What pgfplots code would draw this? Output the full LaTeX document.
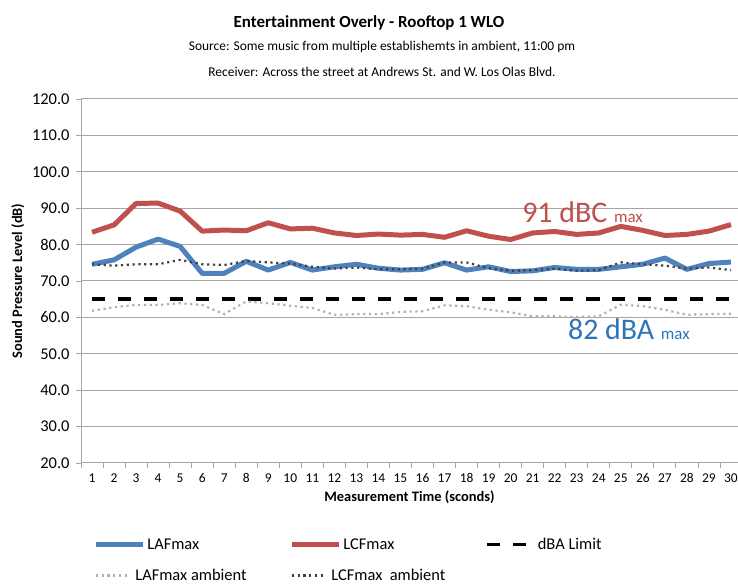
\documentclass[border=0pt]{standalone}
\usepackage{fontspec}
\setmainfont{Carlito}
\usepackage{pgfplots}
\pgfplotsset{compat=1.18}
\usepackage{pgfplotstable}
\definecolor{cblue}{HTML}{4F81BD}
\definecolor{cred}{HTML}{C0504D}
\definecolor{tblue}{HTML}{2E75B6}
\definecolor{gridc}{HTML}{A6A6A6}
\definecolor{lgray}{HTML}{B0B0B0}
\definecolor{dgray}{HTML}{404040}
\pgfplotsset{shortleg/.style={legend image code/.code={\draw[##1] (0bp,0bp) -- (32bp,0bp);}}}

\pgfplotstableread{
x LAF LCF LAFamb LCFamb lim
1 74.6 83.4 61.8 74.6 65
2 75.8 85.4 62.8 74.2 65
3 79.3 91.3 63.4 74.6 65
4 81.5 91.4 63.4 74.6 65
5 79.5 89.2 63.9 75.8 65
6 72.1 83.7 63.4 74.6 65
7 72.1 84.0 60.9 74.4 65
8 75.4 83.8 64.4 75.5 65
9 73.0 86.0 63.9 75.1 65
10 75.1 84.3 63.2 74.8 65
11 73.0 84.5 62.6 73.9 65
12 73.9 83.2 60.7 73.4 65
13 74.6 82.5 60.9 73.7 65
14 73.5 82.9 60.9 73.2 65
15 73.0 82.6 61.5 73.2 65
16 73.2 82.8 61.7 73.4 65
17 75.0 82.0 63.3 75.1 65
18 73.0 83.8 63.1 75.1 65
19 73.9 82.3 62.1 73.5 65
20 72.6 81.4 61.4 72.8 65
21 72.8 83.2 60.3 73.0 65
22 73.7 83.6 60.3 73.4 65
23 73.2 82.8 60.1 72.8 65
24 73.2 83.2 60.3 73.0 65
25 73.9 85.0 63.5 75.1 65
26 74.6 83.9 63.1 74.6 65
27 76.3 82.5 62.1 74.2 65
28 73.2 82.8 60.7 73.4 65
29 74.8 83.7 60.9 73.7 65
30 75.2 85.5 61.0 73.0 65
}\datatable

\begin{document}
\begin{tikzpicture}[x=1bp,y=1bp]
\useasboundingbox (0,0) rectangle (738,585);
\node[font=\bfseries\fontsize{17}{19}\selectfont] at (369,562) {Entertainment Overly - Rooftop 1 WLO};
\node[font=\fontsize{13.5}{16}\selectfont] at (382,538) {Source: Some music from multiple establishemts in ambient, 11:00 pm};
\node[font=\fontsize{13.5}{16}\selectfont] at (382,513) {Receiver: Across the street at Andrews St. and W. Los Olas Blvd.};
\begin{axis}[
  at={(81bp,122bp)}, anchor=south west,
  scale only axis, width=657bp, height=364bp,
  xmin=0.5, xmax=30.32, ymin=20, ymax=120,
  ytick={20,30,...,120},
  xtick={1,...,30},
  minor xtick={0.5,1.5,...,29.5},
  major tick length=5bp, minor tick length=5bp,
  tick align=outside,
  xtick style={draw=none},
  minor x tick style={draw=gridc, line width=0.8bp},
  ytick style={draw=gridc, line width=0.8bp},
  axis x line*=bottom, axis y line*=left,
  axis line style={-, draw=gridc, line width=1bp},
  ymajorgrids, major grid style={draw=gridc, line width=1bp},
  /pgf/number format/assume math mode=true,
  yticklabel style={font=\fontsize{16.5}{18}\selectfont, xshift=-3bp, /pgf/number format/.cd, fixed, fixed zerofill, precision=1},
  xticklabel style={font=\fontsize{13.5}{15}\selectfont, yshift=-2bp},
  ylabel={\textbf{Sound Pressure Level (dB)}},
  ylabel style={font=\fontsize{14.5}{16}\selectfont, at={(axis description cs:-0.096,0.5)}, anchor=center},
  xlabel={\textbf{Measurement Time (sconds)}},
  xlabel style={font=\fontsize{14.5}{16}\selectfont, at={(axis description cs:0.5,-0.094)}, anchor=center},
  clip=false,
  legend columns=3,
  legend cell align=left,
  legend image code/.code={\draw[#1] (0bp,0bp) -- (47bp,0bp);},
  legend style={at={(axis description cs:0.014,-0.195)}, anchor=north west, draw=none, fill=none,
    font=\fontsize{16.5}{19}\selectfont, row sep=14bp, column sep=0bp},
]
\addplot[cblue, line width=5bp, line join=round] table[x=x,y=LAF] {\datatable};
\addlegendentry{\makebox[140bp][l]{LAFmax}}
\addplot[cred, line width=5bp, line join=round] table[x=x,y=LCF] {\datatable};
\addlegendentry{\makebox[140bp][l]{LCFmax}}
\addplot[black, line width=3.5bp, dash pattern=on 13bp off 13bp] table[x=x,y=lim] {\datatable};
\addlegendentry{dBA Limit}
\addplot[lgray, line width=2.2bp, dash pattern=on 2.2bp off 3.6bp, shortleg] table[x=x,y=LAFamb] {\datatable};
\addlegendentry{\hspace*{-12bp}\makebox[140bp][l]{LAFmax ambient}}
\addplot[dgray, line width=2.2bp, dash pattern=on 2.2bp off 3.6bp, shortleg] table[x=x,y=LCFamb] {\datatable};
\addlegendentry{\hspace*{-12bp}LCFmax\ \ ambient}
\node[anchor=base west, text=cred, font=\fontsize{30}{32}\selectfont, inner sep=0pt] at (axis cs:20.52,86.1) {91 dBC {\fontsize{17}{17}\selectfont max}};
\node[anchor=base west, text=tblue, font=\fontsize{30}{32}\selectfont, inner sep=0pt] at (axis cs:22.6,53.8) {82 dBA {\fontsize{17}{17}\selectfont max}};
\end{axis}
\end{tikzpicture}
\end{document}
